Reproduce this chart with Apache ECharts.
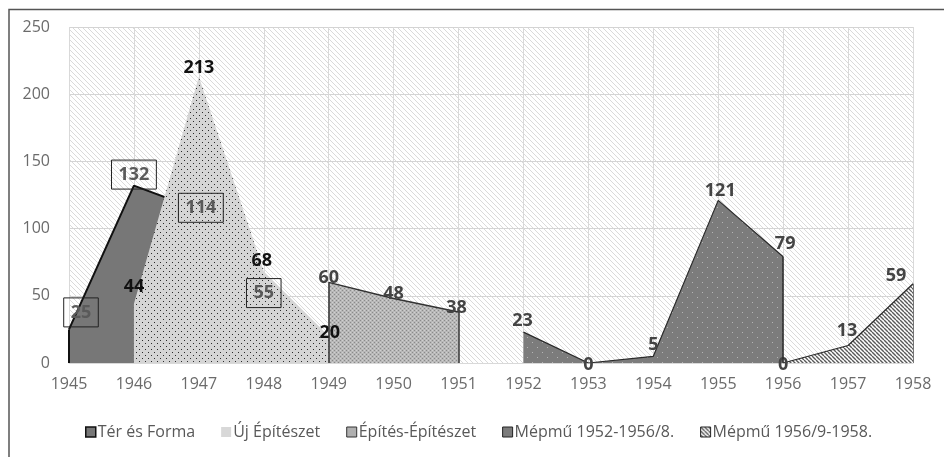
<!DOCTYPE html>
<html>
<head>
<meta charset="utf-8">
<script src="https://cdn.jsdelivr.net/npm/echarts@6/dist/echarts.min.js"></script>
<style>html,body{margin:0;padding:0;background:#fff;}#c{width:944px;height:457px;}</style>
</head>
<body>
<div id="c"></div>
<script>
// ---- data ----
var yTicks = [0, 50, 100, 150, 200, 250];
var seriesNames = ['Tér és Forma', 'Új Építészet', 'Építés-Építészet', 'Mépmű 1952-1956/8.', 'Mépmű 1956/9-1958.'];
var terYears = [1945, 1946, 1947, 1948];
var terValues = [25, 132, 114, 55];
var ujYears = [1946, 1947, 1948, 1949];
var ujValues = [44, 213, 68, 20];
var epitesYears = [1949, 1950, 1951];
var epitesValues = [60, 48, 38];
var mepmu1Years = [1952, 1953, 1954, 1955, 1956];
var mepmu1Values = [23, 0, 5, 121, 79];
var mepmu2Years = [1956, 1957, 1958];
var mepmu2Values = [0, 13, 59];

// ---- label offsets (style) ----
var terOffsets = [[12, -17], [0, -11], [2, -2], [0, 4]];
var ujOffsets = [[0, -17], [0, -9], [-2, -11], [1, -3]];
var epitesOffsets = [[0, -4], [0, -5], [-2, -4]];
var mepmu1Offsets = [[-1, -11], [0, 2], [0, -11], [2, -10], [2, -13]];
var mepmu2Offsets = [[0, 2], [-1, -15], [-17, -8]];

// ---- patterns ----
function mk(w, h, draw) {
  var c = document.createElement('canvas');
  c.width = w; c.height = h;
  var g = c.getContext('2d');
  draw(g, w, h);
  return { image: c, repeat: 'repeat' };
}
function hatch(s, bg, fg, lw) {
  return mk(s, s, function (g) {
    g.fillStyle = bg; g.fillRect(0, 0, s, s);
    g.strokeStyle = fg; g.lineWidth = lw;
    for (var x0 = -s; x0 <= s; x0 += s) {
      g.beginPath(); g.moveTo(x0, 0); g.lineTo(x0 + s, s); g.stroke();
    }
  });
}
function dots(s, bg, fg, r, pts) {
  return mk(s, s, function (g) {
    g.fillStyle = bg; g.fillRect(0, 0, s, s);
    g.fillStyle = fg;
    pts.forEach(function (p) { g.fillRect(p[0], p[1], r, r); });
  });
}
var bgPattern = hatch(5, '#ffffff', '#dadada', 1);
var terFill = '#777777';
var ujFill = dots(6, '#d5d5d5', '#2a2a2a', 1, [[1, 1], [4, 4]]);
var epitesFill = mk(4, 4, function (g) {
  g.fillStyle = '#b8b8b8'; g.fillRect(0, 0, 4, 4);
  g.fillStyle = '#8a8a8a';
  g.fillRect(0, 0, 1, 1); g.fillRect(2, 2, 1, 1);
  g.fillStyle = '#d0d0d0';
  g.fillRect(2, 0, 1, 1); g.fillRect(0, 2, 1, 1);
});
var mepmu1Fill = dots(10, '#7c7c7c', '#b4b4b4', 1, [[2, 2], [7, 7]]);
var mepmu2Fill = hatch(4, '#ffffff', '#5a5a5a', 1.4);

var fontFam = '"Open Sans", "Noto Sans", sans-serif';

function buildData(xs, vs, offs) {
  return xs.map(function (x, i) {
    return { value: [x, vs[i]], label: { offset: offs[i] } };
  });
}
function edge(x, y) {
  return [{ coord: [x, 0] }, { coord: [x, y] }];
}
function edgeLine(list, color, width) {
  return {
    silent: true, symbol: 'none', label: { show: false }, animation: false,
    lineStyle: { color: color, width: width, type: 'solid' },
    data: list
  };
}

var baseLabel = {
  show: true, position: 'inside', fontFamily: fontFam, fontWeight: 'bold', fontSize: 18,
  formatter: function (p) { return p.value[1]; }
};

var option = {
  animation: false,
  backgroundColor: '#ffffff',
  grid: { left: 69, right: 31, top: 27, bottom: 94, show: true, backgroundColor: bgPattern, borderWidth: 0 },
  xAxis: {
    type: 'value', min: 1945, max: 1958, interval: 1,
    axisLine: { show: true, lineStyle: { color: '#d9d9d9', width: 1 } },
    axisTick: { show: false },
    splitLine: { show: true, lineStyle: { color: '#d9d9d9', width: 1 } },
    axisLabel: { margin: 13, color: '#6b6b6b', fontFamily: fontFam, fontSize: 16, formatter: function (v) { return String(v); } }
  },
  yAxis: {
    type: 'value', min: yTicks[0], max: yTicks[yTicks.length - 1], interval: yTicks[1] - yTicks[0],
    axisLine: { show: false }, axisTick: { show: false },
    splitLine: { show: true, lineStyle: { color: '#d4d4d4', width: 1 } },
    axisLabel: { margin: 19, color: '#6b6b6b', fontFamily: fontFam, fontSize: 16 }
  },
  legend: {
    bottom: 12, left: 80, itemWidth: 10, itemHeight: 10, itemGap: 26,
    textStyle: { color: '#595959', fontFamily: fontFam, fontSize: 16, padding: [0, 0, 0, -3] },
    data: [
      { name: seriesNames[0], icon: 'rect', itemStyle: { color: '#777777', borderColor: '#111', borderWidth: 1.5 } },
      { name: seriesNames[1], icon: 'rect', itemStyle: { color: '#d8d8d8', borderWidth: 0 } },
      { name: seriesNames[2], icon: 'rect', itemStyle: { color: '#b0b0b0', borderColor: '#333', borderWidth: 1 } },
      { name: seriesNames[3], icon: 'rect', itemStyle: { color: '#7c7c7c', borderColor: '#222', borderWidth: 1 } },
      { name: seriesNames[4], icon: 'rect', itemStyle: { color: mepmu2Fill, borderColor: '#222', borderWidth: 1 } }
    ]
  },
  graphic: [{
    type: 'polyline', silent: true,
    shape: { points: [[9, 457], [9, 9.5], [944, 9.5]] },
    style: { stroke: '#555555', lineWidth: 1.5, fill: null }
  }],
  series: [
    {
      name: seriesNames[0], type: 'line', z: 1, symbol: 'none',
      data: buildData(terYears, terValues, terOffsets),
      lineStyle: { color: '#111111', width: 2 },
      itemStyle: { color: '#777777' },
      areaStyle: { color: terFill, opacity: 1 },
      label: { show: false },
      markLine: edgeLine([edge(terYears[0], terValues[0])], '#111111', 2)
    },
    {
      name: seriesNames[1], type: 'line', z: 2, symbol: 'circle', symbolSize: 0,
      data: buildData(ujYears, ujValues, ujOffsets),
      lineStyle: { width: 0, opacity: 0 },
      itemStyle: { color: '#d5d5d5' },
      areaStyle: { color: ujFill, opacity: 1 },
      label: Object.assign({}, baseLabel, { color: '#111111' })
    },
    {
      // label layer of "Tér és Forma" (drawn above the other areas)
      name: seriesNames[0] + ' ', type: 'line', z: 6, symbol: 'circle', symbolSize: 0,
      data: buildData(terYears, terValues, terOffsets),
      lineStyle: { width: 0, opacity: 0 },
      itemStyle: { color: '#777777' },
      label: Object.assign({}, baseLabel, {
        color: '#5a5a5a', borderColor: '#222', borderWidth: 1, padding: [5, 7, 4, 7], lineHeight: 20
      }),
      tooltip: { show: false }
    },
    {
      name: seriesNames[2], type: 'line', z: 2, symbol: 'circle', symbolSize: 0,
      data: buildData(epitesYears, epitesValues, epitesOffsets),
      lineStyle: { color: '#333333', width: 1.5 },
      itemStyle: { color: '#b0b0b0' },
      areaStyle: { color: epitesFill, opacity: 1 },
      label: Object.assign({}, baseLabel, { color: '#444444' }),
      markLine: edgeLine([edge(epitesYears[0], epitesValues[0]), edge(epitesYears[epitesYears.length - 1], epitesValues[epitesValues.length - 1])], '#333333', 1.5)
    },
    {
      name: seriesNames[3], type: 'line', z: 2, symbol: 'circle', symbolSize: 0,
      data: buildData(mepmu1Years, mepmu1Values, mepmu1Offsets),
      lineStyle: { color: '#2a2a2a', width: 1.2 },
      itemStyle: { color: '#7c7c7c' },
      areaStyle: { color: mepmu1Fill, opacity: 1 },
      label: Object.assign({}, baseLabel, { color: '#444444' }),
      markLine: edgeLine([edge(mepmu1Years[mepmu1Years.length - 1], mepmu1Values[mepmu1Values.length - 1])], '#2a2a2a', 1.5)
    },
    {
      name: seriesNames[4], type: 'line', z: 2, symbol: 'circle', symbolSize: 0,
      data: buildData(mepmu2Years, mepmu2Values, mepmu2Offsets),
      lineStyle: { color: '#2a2a2a', width: 1.2 },
      itemStyle: { color: '#5a5a5a' },
      areaStyle: { color: mepmu2Fill, opacity: 1 },
      label: Object.assign({}, baseLabel, { color: '#444444' }),
      markLine: edgeLine([edge(mepmu2Years[mepmu2Years.length - 1], mepmu2Values[mepmu2Values.length - 1])], '#777777', 1)
    }
  ]
};
var chart = echarts.init(document.getElementById('c'), null, { renderer: 'canvas' });
chart.setOption(option);
</script>
</body>
</html>
